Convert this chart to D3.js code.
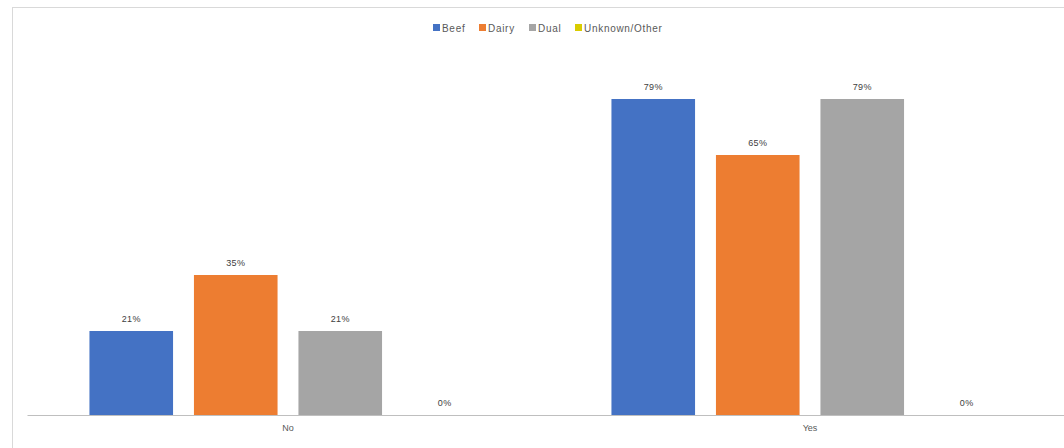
<!DOCTYPE html>
<html>
<head>
<meta charset="utf-8">
<script src="https://cdn.jsdelivr.net/npm/d3@7"></script>
<style>
  html, body { margin: 0; padding: 0; background: #fff; }
  svg { display: block; font-family: "Liberation Sans", Arial, sans-serif; }
</style>
</head>
<body>
<svg id="chart" width="1064" height="448"></svg>
<script>
// Answer groups along the x axis
const categories = ["No", "Yes"];
// Series shown in each group
const seriesNames = ["Beef", "Dairy", "Dual", "Unknown/Other"];
const seriesColors = ["#4472C4", "#ED7D31", "#A5A5A5", "#D9CC00"];
// Percent values per series, in category order
const beefValues = [21, 79];
const dairyValues = [35, 65];
const dualValues = [21, 79];
const unknownValues = [0, 0];

const seriesValues = [beefValues, dairyValues, dualValues, unknownValues];

const svg = d3.select("#chart");
const W = 1064, H = 448;

// Chart frame
svg.append("rect")
  .attr("x", 12.5).attr("y", 7.5)
  .attr("width", W + 20).attr("height", H + 20)
  .attr("fill", "#fff")
  .attr("stroke", "#d9d9d9").attr("stroke-width", 1);

const plot = { left: 27, right: 1071, top: 55, bottom: 415 };

const x0 = d3.scaleBand()
  .domain(categories)
  .range([plot.left, plot.right])
  .padding(0);

const x1 = d3.scaleBand()
  .domain(seriesNames)
  .range([52, 470])
  .paddingInner(0.2)
  .paddingOuter(0.1);

const y = d3.scaleLinear()
  .domain([0, 90])
  .range([plot.bottom, plot.top]);

const rows = [];
categories.forEach((c, ci) => {
  seriesNames.forEach((s, si) => {
    rows.push({ cat: c, series: s, value: seriesValues[si][ci], color: seriesColors[si] });
  });
});

const g = svg.append("g");

// Bars
g.selectAll("rect.bar")
  .data(rows)
  .join("rect")
  .attr("class", "bar")
  .attr("x", d => x0(d.cat) + x1(d.series))
  .attr("y", d => y(d.value))
  .attr("width", x1.bandwidth())
  .attr("height", d => y(0) - y(d.value))
  .attr("fill", d => d.color);

// Value labels
g.selectAll("text.val")
  .data(rows)
  .join("text")
  .attr("class", "val")
  .attr("x", d => x0(d.cat) + x1(d.series) + x1.bandwidth() / 2)
  .attr("y", d => y(d.value) - 9)
  .attr("text-anchor", "middle")
  .attr("font-size", 9)
  .attr("letter-spacing", 0.4)
  .attr("fill", "#404040")
  .text(d => d.value + "%");

// Category axis
const xAxis = d3.axisBottom(x0).tickSize(0).tickPadding(10);
const ax = svg.append("g")
  .attr("transform", `translate(0,${plot.bottom})`)
  .call(xAxis);
ax.select(".domain").attr("stroke", "#bfbfbf").attr("stroke-width", 1.2);
ax.selectAll("text")
  .attr("font-size", 9)
  .attr("fill", "#595959")
  .attr("font-family", "Liberation Sans, Arial, sans-serif");

// Legend
const legendItems = seriesNames.map((s, i) => ({ name: s, color: seriesColors[i] }));
const legendX = [433, 479, 529, 575];
const legend = svg.append("g").attr("transform", "translate(0,24)");
const li = legend.selectAll("g")
  .data(legendItems)
  .join("g")
  .attr("transform", (d, i) => `translate(${legendX[i]},0)`);
li.append("rect")
  .attr("width", 7).attr("height", 7)
  .attr("fill", d => d.color);
li.append("text")
  .attr("x", 9).attr("y", 7.5)
  .attr("font-size", 10)
  .attr("letter-spacing", 0.7)
  .attr("fill", "#595959")
  .text(d => d.name);
</script>
</body>
</html>
